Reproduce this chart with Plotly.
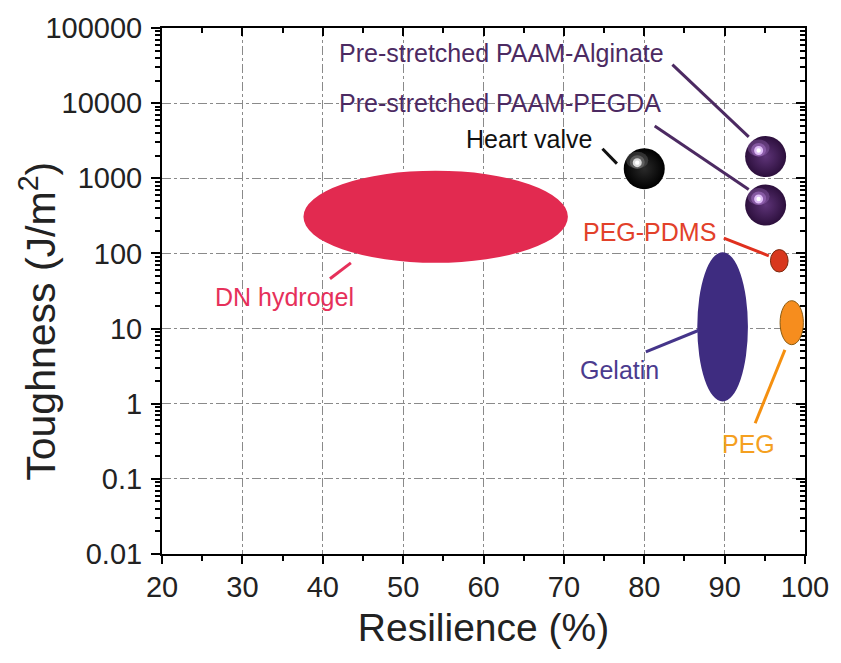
import math
import plotly.graph_objects as go

# ---------------- data ----------------
# ellipse regions (resilience %, toughness J/m^2)
region_names = ["DN hydrogel", "Gelatin", "PEG-PDMS", "PEG"]
region_x_low = [37.6, 86.6, 95.7, 96.9]
region_x_high = [70.5, 92.9, 97.9, 99.8]
region_y_low = [75, 1.07, 56.6, 6.1]
region_y_high = [1260, 104, 112.5, 23.5]
region_fill = ["#e22a50", "#3e2c80", "#d8381e", "#f68d1e"]
region_edge = [None, None, "#7a2a10", "#8a5a10"]

# sphere-like points
sphere_names = ["Pre-stretched PAAM-Alginate", "Pre-stretched PAAM-PEGDA", "Heart valve"]
sphere_x = [95.1, 95.1, 80.0]
sphere_y = [1950, 441, 1343]
sphere_edge = ["#2c0f3c", "#2c0f3c", "#000000"]
sphere_center = ["#5e3478", "#5e3478", "#2a2a2a"]
sphere_glow = ["#a070c0", "#a070c0", "#777777"]
sphere_shine = ["#e8c8ff", "#e8c8ff", "#e8e8e8"]

# labels
label_text = ["Pre-stretched PAAM-Alginate", "Pre-stretched PAAM-PEGDA", "Heart valve",
              "PEG-PDMS", "DN hydrogel", "Gelatin", "PEG"]
label_x = [62.2, 62.1, 65.6, 80.7, 35.3, 76.9, 93.0]
label_y = [46700, 10000, 3340, 192, 26, 2.83, 0.29]
label_color = ["#4c2a62", "#4c2a62", "#111111", "#e2412a", "#e6305a", "#4b3b8e", "#f5a020"]

# leader lines (label end -> item)
leader_x0 = [83.5, 81.3, 74.8, 89.9, 40.9, 80.2, 93.8]
leader_y0 = [32500, 4950, 2470, 160, 46, 4.9, 0.55]
leader_x1 = [93.0, 93.0, 76.6, 95.5, 43.5, 86.8, 97.5]
leader_y1 = [3550, 710, 1565, 93, 75, 9.5, 5.2]
leader_color = ["#4c2a62", "#4c2a62", "#111111", "#e0301e", "#e6305a", "#45358a", "#f59010"]

# axis ticks
x_ticks = [20, 30, 40, 50, 60, 70, 80, 90, 100]
y_ticks = [0.01, 0.1, 1, 10, 100, 1000, 10000, 100000]
y_tick_text = ["0.01", "0.1", "1", "10", "100", "1000", "10000", "100000"]
y_minor = [m * d for d in [0.01, 0.1, 1, 10, 100, 1000, 10000] for m in range(2, 10)]

FONT = "Liberation Sans, Arial, sans-serif"
TXT = "#222222"

fig = go.Figure()

# spheres as gradient markers
for i in range(len(sphere_names)):
    fig.add_trace(go.Scatter(
        x=[sphere_x[i]], y=[sphere_y[i]], mode="markers",
        marker=dict(size=41, color=sphere_edge[i],
                    gradient=dict(type="radial", color=sphere_center[i]),
                    line=dict(width=0)),
        showlegend=False, hoverinfo="skip"))

# dummy trace for mirrored axes
fig.add_trace(go.Scatter(x=[None], y=[None], xaxis="x2", yaxis="y2",
                         showlegend=False, hoverinfo="skip"))

shapes = []
# ellipses
for i in range(len(region_names)):
    shapes.append(dict(
        type="circle", xref="x", yref="y",
        x0=region_x_low[i], x1=region_x_high[i],
        y0=region_y_low[i], y1=region_y_high[i],
        fillcolor=region_fill[i],
        line=dict(color=region_edge[i] or region_fill[i], width=1 if region_edge[i] else 0),
        layer="above"))

# sphere highlights (pixel-sized, anchored on the data point)
for i in range(len(sphere_names)):
    for r, col, op in [(11, sphere_glow[i], 0.35), (7.5, sphere_glow[i], 0.6),
                       (4.5, sphere_shine[i], 0.9), (2.2, "#ffffff", 1.0)]:
        shapes.append(dict(
            type="circle", xref="x", yref="y", xsizemode="pixel", ysizemode="pixel",
            xanchor=sphere_x[i], yanchor=sphere_y[i],
            x0=-7 - r, x1=-7 + r, y0=6 - r, y1=6 + r,
            fillcolor=col, opacity=op, line=dict(width=0), layer="above"))

# leader lines
for i in range(len(leader_x0)):
    shapes.append(dict(
        type="line", xref="x", yref="y",
        x0=leader_x0[i], y0=leader_y0[i], x1=leader_x1[i], y1=leader_y1[i],
        line=dict(color=leader_color[i], width=3), layer="above"))

annotations = []
for i in range(len(label_text)):
    annotations.append(dict(
        x=label_x[i], y=math.log10(label_y[i]), xref="x", yref="y",
        text=label_text[i], showarrow=False,
        font=dict(family=FONT, size=25, color=label_color[i]),
        xanchor="center", yanchor="middle"))

# y-axis title as rotated annotation (placed like the reference)
annotations.append(dict(
    x=-0.194, y=0.442, xref="paper", yref="paper", xanchor="center", yanchor="middle",
    text="Toughness (J/m<sup>2</sup>)", textangle=-90, showarrow=False,
    font=dict(family=FONT, size=41, color=TXT)))

axis_line = dict(showline=True, linecolor="black", linewidth=2)

fig.update_layout(
    width=841, height=663,
    margin=dict(l=162, r=29, t=23, b=109),
    paper_bgcolor="white", plot_bgcolor="white",
    font=dict(family=FONT, color=TXT),
    shapes=shapes, annotations=annotations,
    xaxis=dict(
        range=[20, 100], tickmode="array", tickvals=x_ticks,
        ticks="outside", ticklen=8, tickwidth=2, tickcolor="black",
        minor=dict(dtick=5, ticks="outside", ticklen=5, tickwidth=2, tickcolor="black", showgrid=False),
        showgrid=True, gridcolor="#8a8a8a", gridwidth=1, griddash="dashdot",
        tickfont=dict(size=29, family=FONT, color=TXT), ticklabelstandoff=-2,
        title=dict(text="Resilience (%)", font=dict(size=39, family=FONT, color=TXT), standoff=12),
        zeroline=False, **axis_line),
    yaxis=dict(
        type="log", range=[-2, 5], tickmode="array", tickvals=y_ticks, ticktext=y_tick_text,
        ticks="outside", ticklen=9, tickwidth=2, tickcolor="black",
        minor=dict(tickmode="array", tickvals=y_minor, ticks="outside", ticklen=5,
                   tickwidth=2, tickcolor="black", showgrid=False),
        showgrid=True, gridcolor="#8a8a8a", gridwidth=1, griddash="dashdot",
        tickfont=dict(size=29, family=FONT, color=TXT), ticklabelstandoff=3,
        zeroline=False, **axis_line),
    xaxis2=dict(
        overlaying="x", side="top", range=[20, 100], tickmode="array", tickvals=x_ticks,
        ticks="inside", ticklen=8, tickwidth=2, tickcolor="black", showticklabels=False,
        minor=dict(dtick=5, ticks="inside", ticklen=5, tickwidth=2, tickcolor="black", showgrid=False),
        showgrid=False, zeroline=False, **axis_line),
    yaxis2=dict(
        overlaying="y", side="right", type="log", range=[-2, 5], tickmode="array", tickvals=y_ticks,
        ticks="inside", ticklen=9, tickwidth=2, tickcolor="black", showticklabels=False,
        minor=dict(tickmode="array", tickvals=y_minor, ticks="inside", ticklen=5,
                   tickwidth=2, tickcolor="black", showgrid=False),
        showgrid=False, zeroline=False, **axis_line),
)

fig.write_html("out.html")
